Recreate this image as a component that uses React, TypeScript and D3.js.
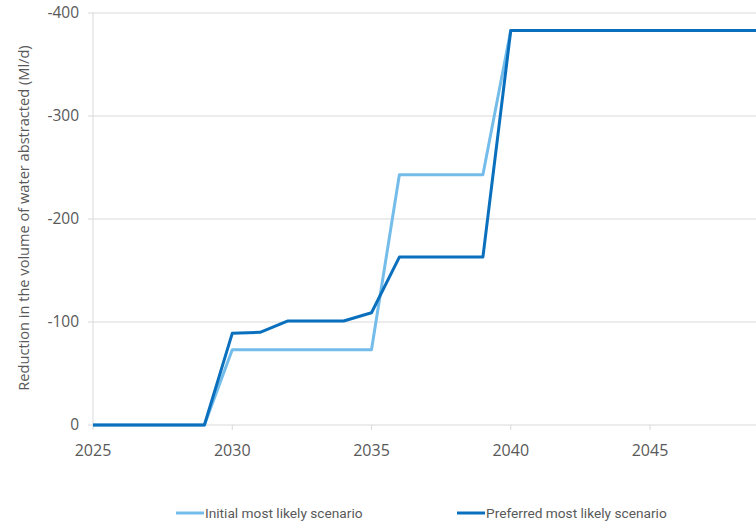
import React from "react";
import * as d3 from "d3";

const years = [2025, 2026, 2027, 2028, 2029, 2030, 2031, 2032, 2033, 2034, 2035, 2036, 2037, 2038, 2039, 2040, 2041, 2042, 2043, 2044, 2045, 2046, 2047, 2048, 2049, 2050];
const initialScenario = [0, 0, 0, 0, 0, -73, -73, -73, -73, -73, -73, -243, -243, -243, -243, -383, -383, -383, -383, -383, -383, -383, -383, -383, -383, -383];
const preferredScenario = [0, 0, 0, 0, 0, -89, -90, -101, -101, -101, -109, -163, -163, -163, -163, -383, -383, -383, -383, -383, -383, -383, -383, -383, -383, -383];
const yTicks = [0, -100, -200, -300, -400];
const xTicks = [2025, 2030, 2035, 2040, 2045];
const seriesNames = ["Initial most likely scenario", "Preferred most likely scenario"];
const colors = ["#74BCEA", "#0A70BE"];

export default function App() {
  const W = 756, H = 527;
  const x = d3.scaleLinear().domain([2025, 2045]).range([93, 650]);
  const y = d3.scaleLinear().domain([0, -400]).range([425, 13]);
  const line = d3.line<number>().x((_, i) => x(years[i])).y((d) => y(d));
  const font = "'Open Sans', 'DejaVu Sans', sans-serif";
  return (
    <svg width={W} height={H} style={{ position: "absolute", left: 0, top: 0, background: "#fff" }} fontFamily={font}>
      <defs>
        <clipPath id="c"><rect x={0} y={0} width={W} height={H} /></clipPath>
      </defs>
      {yTicks.map((t) => (
        <g key={t}>
          <line x1={88} x2={W} y1={y(t)} y2={y(t)} stroke="#D9D9D9" strokeWidth={1} />
          <text x={79} y={y(t)} dy="0.35em" textAnchor="end" fontSize={15.5} fill="#595959">{t}</text>
        </g>
      ))}
      <line x1={93} x2={93} y1={13} y2={425} stroke="#D9D9D9" strokeWidth={1} />
      {xTicks.map((t) => (
        <g key={t}>
          <line x1={x(t)} x2={x(t)} y1={425} y2={430} stroke="#D9D9D9" strokeWidth={1} />
          <text x={x(t)} y={450} dy="0.35em" textAnchor="middle" fontSize={16} fill="#595959">{t}</text>
        </g>
      ))}
      <text transform={`translate(24,218) rotate(-90)`} textAnchor="middle" dy="0.35em" fontSize={14.6} fill="#595959">
        Reduction in the volume of water abstracted (Ml/d)
      </text>
      <g clipPath="url(#c)">
        <path d={line(initialScenario) || ""} fill="none" stroke={colors[0]} strokeWidth={3} strokeLinejoin="round" />
        <path d={line(preferredScenario) || ""} fill="none" stroke={colors[1]} strokeWidth={3} strokeLinejoin="round" />
      </g>
      {[176, 457].map((lx, i) => (
        <g key={i}>
          <line x1={lx} x2={lx + 28} y1={513} y2={513} stroke={colors[i]} strokeWidth={3} />
          <text x={lx + 29} y={513} dy="0.35em" fontSize={13.7} fill="#595959" fontFamily="'Roboto', sans-serif">{seriesNames[i]}</text>
        </g>
      ))}
    </svg>
  );
}
